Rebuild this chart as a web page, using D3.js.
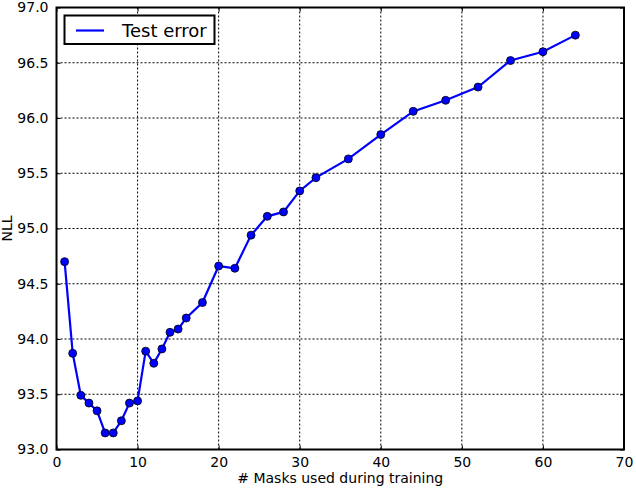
<!DOCTYPE html>
<html>
<head>
<meta charset="utf-8">
<script src="https://cdn.jsdelivr.net/npm/d3@7"></script>
<style>
  html, body { margin: 0; padding: 0; background: #fff; }
  svg { display: block; }
  text { font-family: "DejaVu Sans", sans-serif; }
</style>
</head>
<body>
<svg id="chart" width="636" height="488"></svg>
<script>
const masks = [1, 2, 3, 4, 5, 6, 7, 8, 9, 10, 11, 12, 13, 14, 15, 16, 18, 20, 22, 24, 26, 28, 30, 32, 36, 40, 44, 48, 52, 56, 60, 64];
const testError = [94.70, 93.87, 93.49, 93.42, 93.35, 93.15, 93.15, 93.26, 93.42, 93.44, 93.89, 93.78, 93.91, 94.06, 94.09, 94.19, 94.33, 94.66, 94.64, 94.94, 95.11, 95.15, 95.34, 95.46, 95.63, 95.85, 96.06, 96.16, 96.28, 96.52, 96.60, 96.75];
const xTicks = [0, 10, 20, 30, 40, 50, 60, 70];
const yTicks = [93.0, 93.5, 94.0, 94.5, 95.0, 95.5, 96.0, 96.5, 97.0];
const seriesName = "Test error";
const xLabel = "# Masks used during training";
const yLabel = "NLL";

const svg = d3.select("#chart");
const L = 56.5, R = 624, T = 7.5, B = 449.5;
const x = d3.scaleLinear().domain([0, 70]).range([L, R]);
const y = d3.scaleLinear().domain([93, 97]).range([B, T]);

// grid
const grid = svg.append("g");
grid.selectAll(".gx").data(xTicks.slice(1, -1)).join("line")
  .attr("x1", d => x(d)).attr("x2", d => x(d)).attr("y1", T).attr("y2", B)
  .attr("stroke", "#000").attr("stroke-width", 1).attr("stroke-dasharray", "2,2");
grid.selectAll(".gy").data(yTicks.slice(1, -1)).join("line")
  .attr("y1", d => y(d)).attr("y2", d => y(d)).attr("x1", L).attr("x2", R)
  .attr("stroke", "#000").attr("stroke-width", 1).attr("stroke-dasharray", "2,2");

// axes (ticks inward, on all sides)
const fmtY = d3.format(".1f");
const axB = svg.append("g").attr("transform", `translate(0,${B})`)
  .call(d3.axisBottom(x).tickValues(xTicks).tickSizeInner(-4).tickSizeOuter(0).tickPadding(8));
const axT = svg.append("g").attr("transform", `translate(0,${T})`)
  .call(d3.axisTop(x).tickValues(xTicks).tickSizeInner(-4).tickSizeOuter(0).tickFormat(""));
const axL = svg.append("g").attr("transform", `translate(${L},0)`)
  .call(d3.axisLeft(y).tickValues(yTicks).tickFormat(fmtY).tickSizeInner(-4).tickSizeOuter(0).tickPadding(8));
const axR = svg.append("g").attr("transform", `translate(${R},0)`)
  .call(d3.axisRight(y).tickValues(yTicks).tickSizeInner(-4).tickSizeOuter(0).tickFormat(""));
[axB, axT, axL, axR].forEach(a => {
  a.select(".domain").remove();
  a.selectAll(".tick line").attr("stroke", "#000").attr("stroke-width", 1);
  a.selectAll("text").attr("font-size", 14).attr("fill", "#000").attr("font-family", "DejaVu Sans");
});
axL.selectAll("text").attr("dy", "0.32em");

// line + markers
const line = d3.line().x((d, i) => x(masks[i])).y(d => y(d));
svg.append("path").datum(testError).attr("d", line)
  .attr("fill", "none").attr("stroke", "#0000ff").attr("stroke-width", 2.2);
svg.append("g").selectAll("circle").data(testError).join("circle")
  .attr("cx", (d, i) => x(masks[i])).attr("cy", d => y(d)).attr("r", 4)
  .attr("fill", "#0000ff").attr("stroke", "#000").attr("stroke-width", 0.8);

// frame
svg.append("rect").attr("x", L).attr("y", T).attr("width", R - L).attr("height", B - T)
  .attr("fill", "none").attr("stroke", "#000").attr("stroke-width", 2);

// axis labels
svg.append("text").attr("x", (L + R) / 2).attr("y", 483).attr("text-anchor", "middle")
  .attr("font-size", 14).text(xLabel);
svg.append("text").attr("transform", `translate(12,${(T + B) / 2}) rotate(-90)`)
  .attr("text-anchor", "middle").attr("font-size", 14).text(yLabel);

// legend
const lg = svg.append("g");
lg.append("rect").attr("x", 64.5).attr("y", 15.5).attr("width", 150).attr("height", 28.5)
  .attr("fill", "#fff").attr("stroke", "#000").attr("stroke-width", 2);
lg.append("line").attr("x1", 76).attr("x2", 104).attr("y1", 30.5).attr("y2", 30.5)
  .attr("stroke", "#0000ff").attr("stroke-width", 2.2);
lg.append("text").attr("x", 122).attr("y", 37.3).attr("font-size", 18).text(seriesName);
</script>
</body>
</html>
